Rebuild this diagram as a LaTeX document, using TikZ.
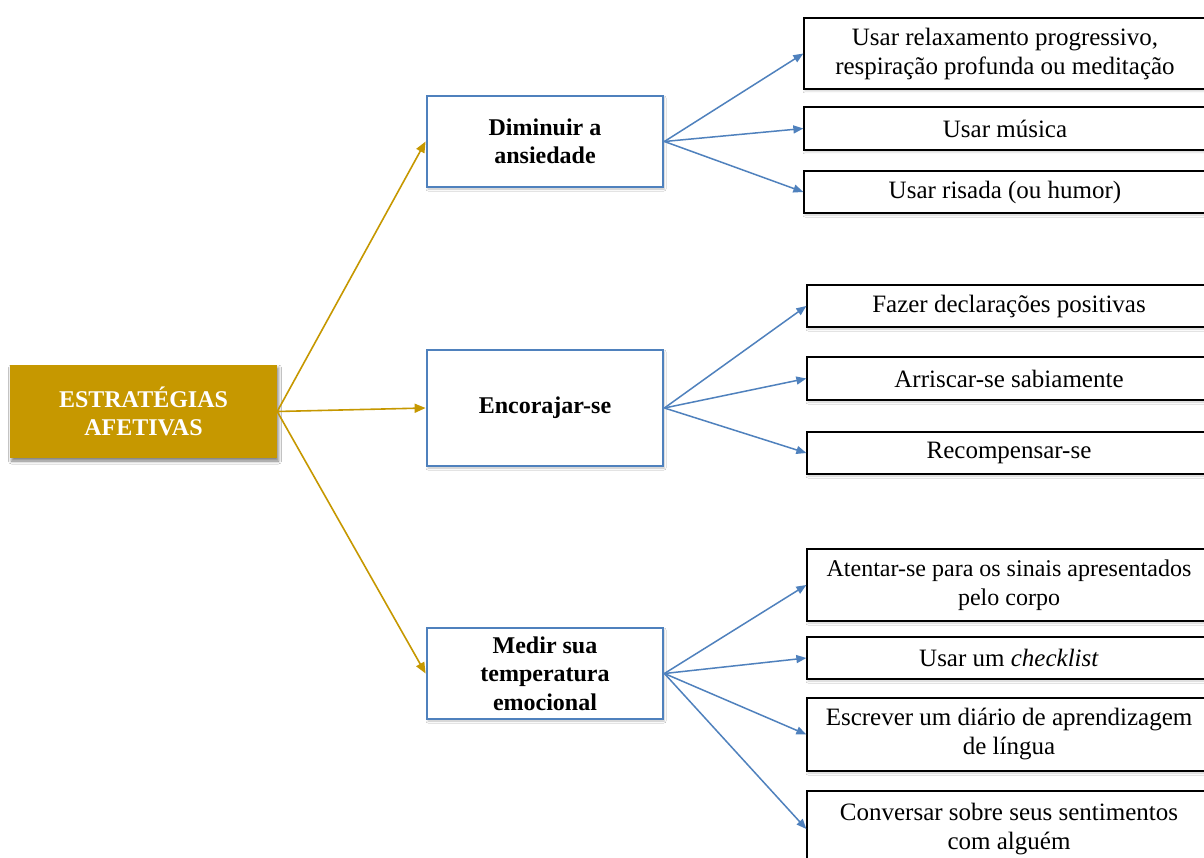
\documentclass[tikz,border=0pt]{standalone}
\usepackage{fontspec}
\setmainfont{Liberation Serif}
\usetikzlibrary{arrows.meta,shadows.blur}
\definecolor{gold}{RGB}{198,152,0}
\definecolor{steel}{RGB}{79,129,189}

\begin{document}
\begin{tikzpicture}[x=1pt,y=-1pt,
  every node/.style={font=\fontsize{25}{29}\selectfont, align=center, inner sep=0pt},
  rootbox/.style={fill=gold, text=white, font=\fontsize{24}{28.5}\selectfont\bfseries,
    minimum width=267pt, minimum height=93pt,
    blur shadow={shadow xshift=1.5pt, shadow yshift=-3pt, shadow blur radius=3pt, shadow opacity=50}},
  midbox/.style={draw=steel, line width=2.8pt, fill=white, minimum width=236pt,
    font=\fontsize{24}{28.5}\selectfont\bfseries,
    blur shadow={shadow xshift=1pt, shadow yshift=-2pt, shadow blur radius=2pt, shadow opacity=25}},
  leafbox/.style={draw=black, line width=1.3pt, fill=white,
    blur shadow={shadow xshift=1pt, shadow yshift=-2pt, shadow blur radius=2pt, shadow opacity=20}},
  leafA/.style={leafbox, minimum width=402pt},
  leafB/.style={leafbox, minimum width=404pt},
  goldarrow/.style={draw=gold, line width=1.6pt, -{Triangle[length=11pt,width=9pt]}},
  bluearrow/.style={draw=steel, line width=1.5pt, -{Triangle[length=10pt,width=8pt]}},
]
\fill[white] (0,0) rectangle (1204,858);
\useasboundingbox (0,0) rectangle (1204,858);
\clip (0,0) rectangle (1204,858);

% root
\node[rootbox] (root) at (143.5,411.5) {ESTRATÉGIAS\\AFETIVAS};

% second level
\node[midbox, minimum height=91pt] (m1) at (545,141.5) {Diminuir a\\ansiedade};
\node[midbox, minimum height=116pt] (m2) at (545,408) {Encorajar-se};
\node[midbox, minimum height=91pt] (m3) at (545,673.5) {Medir sua\\temperatura\\emocional};

% leaves: anxiety
\node[leafA, minimum height=71pt] (a1) at (1005,53.5) {Usar relaxamento progressivo,\\respiração profunda ou meditação};
\node[leafA, minimum height=43pt] (a2) at (1005,128.5) {Usar música};
\node[leafA, minimum height=42pt] (a3) at (1005,192) {Usar risada (ou humor)};

% leaves: encouragement
\node[leafB, minimum height=42pt] (b1) at (1009,306) {Fazer declarações positivas};
\node[leafB, minimum height=43pt] (b2) at (1009,378.5) {Arriscar-se sabiamente};
\node[leafB, minimum height=42pt] (b3) at (1009,453) {Recompensar-se};

% leaves: emotional temperature
\node[leafB, minimum height=72pt, font=\fontsize{24}{29}\selectfont] (c1) at (1009,585) {Atentar-se para os sinais apresentados\\pelo corpo};
\node[leafB, minimum height=42pt] (c2) at (1009,658) {Usar um \textit{checklist}};
\node[leafB, minimum height=73pt] (c3) at (1009,734.5) {Escrever um diário de aprendizagem\\de língua};
\node[leafB, minimum height=76pt] (c4) at (1009,829) {Conversar sobre seus sentimentos\\com alguém};

% connectors
\draw[goldarrow] (root.east) -- (m1.west);
\draw[goldarrow] (root.east) -- (m2.west);
\draw[goldarrow] (root.east) -- (m3.west);

\foreach \t in {a1,a2,a3} \draw[bluearrow] (m1.east) -- (\t.west);
\foreach \t in {b1,b2,b3} \draw[bluearrow] (m2.east) -- (\t.west);
\foreach \t in {c1,c2,c3,c4} \draw[bluearrow] (m3.east) -- (\t.west);
\end{tikzpicture}
\end{document}
